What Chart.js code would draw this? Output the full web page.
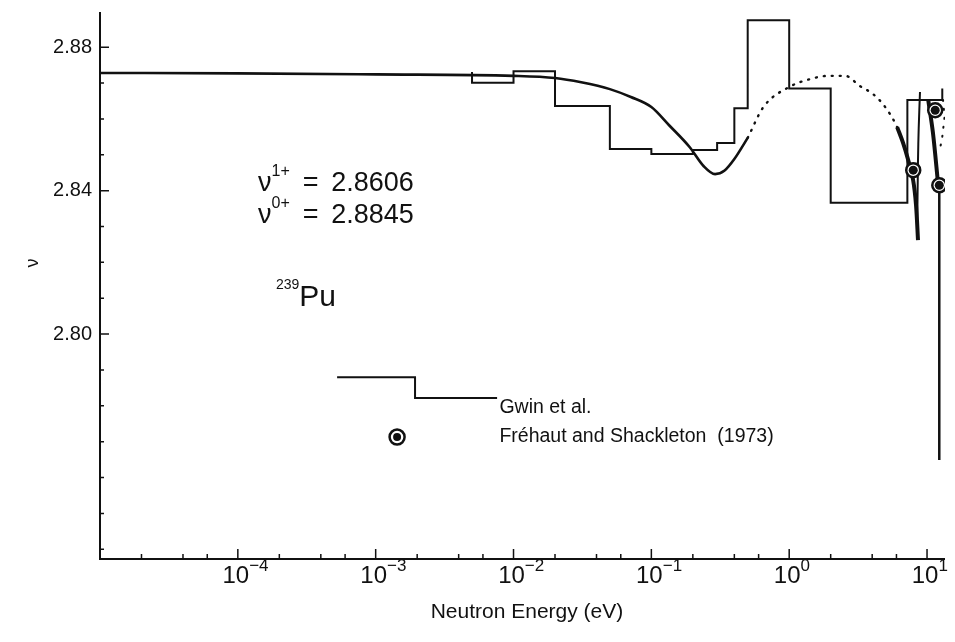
<!DOCTYPE html>
<html>
<head>
<meta charset="utf-8">
<title>Pu-239 nu-bar</title>
<script src="https://cdn.jsdelivr.net/npm/chart.js@4.4.1/dist/chart.umd.min.js"></script>
<style>
    html, body { margin: 0; padding: 0; background: #fff; }
    #wrap { width: 955px; height: 642px; }
</style>
</head>
<body>
<div id="wrap"><canvas id="nuChart" width="955" height="642"></canvas></div>
<script>
// Gwin et al. histogram: bin edges (eV) and nu per bin
const gwinEdges = [0.005, 0.01, 0.02, 0.05, 0.1, 0.2, 0.3, 0.4, 0.5, 1.0, 2.0, 7.2, 10.4, 12.9];
const gwinNu = [2.8731, 2.8701, 2.8733, 2.8636, 2.8516, 2.8502, 2.8513, 2.8533, 2.8630, 2.8875, 2.8685, 2.8366, 2.8653];
const gwinTailNu = 2.8685;

// fitted curve, solid part
const fitE = [1e-5, 1e-4, 1e-3, 0.01, 0.02, 0.031, 0.05, 0.071, 0.1, 0.134, 0.19, 0.24, 0.29, 0.34, 0.4, 0.5];
const fitNu = [2.8728, 2.8727, 2.8724, 2.8720, 2.8714, 2.8702, 2.8683, 2.8661, 2.8633, 2.8583, 2.8521, 2.8468, 2.8446, 2.8456, 2.8488, 2.8547];

// fitted curve, dotted continuation
const dotE = [0.5, 0.65, 1.0, 1.42, 1.92, 2.55, 3.27, 4.0, 4.72, 5.58, 6.07];
const dotNu = [2.8547, 2.8633, 2.8689, 2.8711, 2.8720, 2.8720, 2.8691, 2.8671, 2.8644, 2.8604, 2.8577];

// resonance region near 8-12 eV
const resAE = [6.07, 6.7, 7.29, 7.93, 8.32, 8.6];
const resANu = [2.8577, 2.8533, 2.8486, 2.8429, 2.8360, 2.8262];
const resBE = [8.89, 8.7, 8.6, 8.47];
const resBNu = [2.8675, 2.8574, 2.8486, 2.8276];
const resCE = [10.2, 11.04, 12.0];
const resCNu = [2.8653, 2.8561, 2.8423];
const tailE = [13.06, 13.4, 12.9, 12.5];
const tailNu = [2.8653, 2.8605, 2.8550, 2.8522];
const dropE = [12.27, 12.27];
const dropNu = [2.8401, 2.7649];

// Frehaut and Shackleton (1973)
const frE = [7.94, 11.46, 12.27];
const frNu = [2.8457, 2.8624, 2.8415];

// axes
const xMajor = [1e-4, 1e-3, 1e-2, 1e-1, 1, 10];
const xMajorExp = ['\u22124', '\u22123', '\u22122', '\u22121', '0', '1'];
const xMinorMult = [2, 4, 6];
const xDecades = [1e-5, 1e-4, 1e-3, 1e-2, 1e-1, 1];
const yMajor = [2.80, 2.84, 2.88];
const yMajorLabels = ['2.80', '2.84', '2.88'];
const yMinor = [2.74, 2.75, 2.76, 2.77, 2.78, 2.79, 2.81, 2.82, 2.83, 2.85, 2.86, 2.87];

const FONT = '"Liberation Sans", Arial, Helvetica, sans-serif';
const INK = '#111';

const pts = (xs, ys) => xs.map((v, i) => ({ x: v, y: ys[i] }));

// histogram as step points
const gwinPts = gwinNu.map((v, i) => ({ x: gwinEdges[i], y: v }));
gwinPts.push({ x: gwinEdges[gwinEdges.length - 1], y: gwinNu[gwinNu.length - 1] });
gwinPts.push({ x: gwinEdges[gwinEdges.length - 1], y: gwinTailNu });

// draw a run of text pieces, some raised as superscripts
function drawRich(ctx, parts, x, y, size, supSize) {
    let cx = x;
    parts.forEach(p => {
        const sz = p.sup ? supSize : size;
        ctx.font = sz + 'px ' + FONT;
        ctx.fillText(p.t, cx, p.sup ? y - size * 0.42 : y);
        cx += ctx.measureText(p.t).width;
    });
    return cx - x;
}

const axesPlugin = {
    id: 'nuAxes',
    afterDraw(chart) {
        const { ctx, chartArea: area, scales: { x, y } } = chart;
        ctx.save();
        ctx.strokeStyle = INK;
        ctx.fillStyle = INK;
        ctx.lineWidth = 2;

        // axis lines (left and bottom only)
        ctx.beginPath();
        ctx.moveTo(area.left, area.top);
        ctx.lineTo(area.left, area.bottom);
        ctx.lineTo(area.right, area.bottom);
        ctx.stroke();

        // x ticks point inward
        ctx.lineWidth = 1.5;
        ctx.beginPath();
        xMajor.forEach(v => {
            const px = x.getPixelForValue(v);
            ctx.moveTo(px, area.bottom);
            ctx.lineTo(px, area.bottom - 10);
        });
        xDecades.forEach(d => {
            xMinorMult.forEach(m => {
                const px = x.getPixelForValue(d * m);
                ctx.moveTo(px, area.bottom);
                ctx.lineTo(px, area.bottom - 5);
            });
        });
        // y ticks
        yMajor.forEach(v => {
            const py = y.getPixelForValue(v);
            ctx.moveTo(area.left, py);
            ctx.lineTo(area.left + 9, py);
        });
        yMinor.forEach(v => {
            const py = y.getPixelForValue(v);
            ctx.moveTo(area.left, py);
            ctx.lineTo(area.left + 4, py);
        });
        ctx.stroke();

        // x tick labels: "10" centred on the tick, exponent hanging right
        ctx.textBaseline = 'middle';
        ctx.textAlign = 'left';
        xMajor.forEach((v, i) => {
            ctx.font = '24px ' + FONT;
            const w10 = ctx.measureText('10').width;
            const px = x.getPixelForValue(v);
            drawRich(ctx, [{ t: '10' }, { t: xMajorExp[i], sup: true }], px - w10 / 2 - 2, area.bottom + 17, 24, 17);
        });

        // y tick labels
        ctx.textAlign = 'right';
        ctx.font = '20px ' + FONT;
        yMajor.forEach((v, i) => {
            ctx.fillText(yMajorLabels[i], area.left - 8, y.getPixelForValue(v));
        });

        // axis titles
        ctx.textAlign = 'center';
        ctx.font = '21px ' + FONT;
        ctx.fillText('Neutron Energy (eV)', 527, area.bottom + 53);
        ctx.save();
        ctx.translate(33, 263);
        ctx.rotate(-Math.PI / 2);
        ctx.font = '18px ' + FONT;
        ctx.fillText('\u03BD', 0, 0);
        ctx.restore();

        // annotations inside the plot
        ctx.textAlign = 'left';
        drawRich(ctx, [{ t: '\u03BD' }, { t: '1+', sup: true }, { t: ' \u2009=\u2009 2.8606' }],
            x.getPixelForValue(1.4e-4), y.getPixelForValue(2.8421), 27, 16);
        drawRich(ctx, [{ t: '\u03BD' }, { t: '0+', sup: true }, { t: ' \u2009=\u2009 2.8845' }],
            x.getPixelForValue(1.4e-4), y.getPixelForValue(2.8331), 27, 16);
        drawRich(ctx, [{ t: '239', sup: true }, { t: 'Pu' }],
            x.getPixelForValue(1.89e-4), y.getPixelForValue(2.8100), 30, 14);

        // legend: step sample and ringed dot
        const l0 = x.getPixelForValue(5.25e-4);
        const l1 = x.getPixelForValue(1.93e-3);
        const l2 = x.getPixelForValue(7.6e-3);
        const yu = y.getPixelForValue(2.7880);
        const yl = y.getPixelForValue(2.7822);
        ctx.lineWidth = 2;
        ctx.beginPath();
        ctx.moveTo(l0, yu);
        ctx.lineTo(l1, yu);
        ctx.lineTo(l1, yl);
        ctx.lineTo(l2, yl);
        ctx.stroke();

        const tx = x.getPixelForValue(7.9e-3);
        ctx.font = '19.5px ' + FONT;
        ctx.fillText('Gwin et al.', tx, y.getPixelForValue(2.7796));
        ctx.fillText('Fr\u00E9haut and Shackleton  (1973)', tx, y.getPixelForValue(2.7713));

        const cx = x.getPixelForValue(1.43e-3);
        const cy = y.getPixelForValue(2.7713);
        ctx.beginPath();
        ctx.arc(cx, cy, 7.5, 0, Math.PI * 2);
        ctx.lineWidth = 2.5;
        ctx.stroke();
        ctx.beginPath();
        ctx.arc(cx, cy, 4, 0, Math.PI * 2);
        ctx.fill();

        ctx.restore();
    }
};

const line = (data, width, extra) => Object.assign({
    data: data,
    borderColor: INK,
    borderWidth: width,
    pointRadius: 0,
    fill: false,
    tension: 0
}, extra || {});

new Chart(document.getElementById('nuChart'), {
    type: 'line',
    data: {
        datasets: [
            line(gwinPts, 2, { stepped: 'after' }),
            line(pts(fitE, fitNu), 2.6, { cubicInterpolationMode: 'monotone' }),
            line(pts(dotE, dotNu), 2.4, { borderDash: [1, 7], borderCapStyle: 'round', cubicInterpolationMode: 'monotone' }),
            line(pts(resAE, resANu), 4, { tension: 0.3 }),
            line(pts(resBE, resBNu), 2, { tension: 0.3 }),
            line(pts(resCE, resCNu), 4, { tension: 0.3 }),
            line(pts(tailE, tailNu), 2, { borderDash: [1, 8], borderCapStyle: 'round' }),
            line(pts(dropE, dropNu), 2.5),
            // ring first, filled dot drawn on top of it (lower order = on top)
            {
                data: pts(frE, frNu),
                showLine: false,
                order: -1,
                pointRadius: 7,
                pointBackgroundColor: '#fff',
                pointBorderColor: INK,
                pointBorderWidth: 2.5
            },
            {
                data: pts(frE, frNu),
                showLine: false,
                order: -2,
                pointRadius: 4.5,
                pointBackgroundColor: INK,
                pointBorderWidth: 0
            }
        ]
    },
    options: {
        responsive: false,
        animation: false,
        devicePixelRatio: 1,
        layout: { padding: { left: 100, right: 10, top: 12, bottom: 83 } },
        plugins: { legend: { display: false }, tooltip: { enabled: false } },
        scales: {
            x: { type: 'logarithmic', min: 1e-5, max: 13.5, display: false },
            y: { type: 'linear', min: 2.7373, max: 2.8898, display: false }
        }
    },
    plugins: [axesPlugin]
});
</script>
</body>
</html>
